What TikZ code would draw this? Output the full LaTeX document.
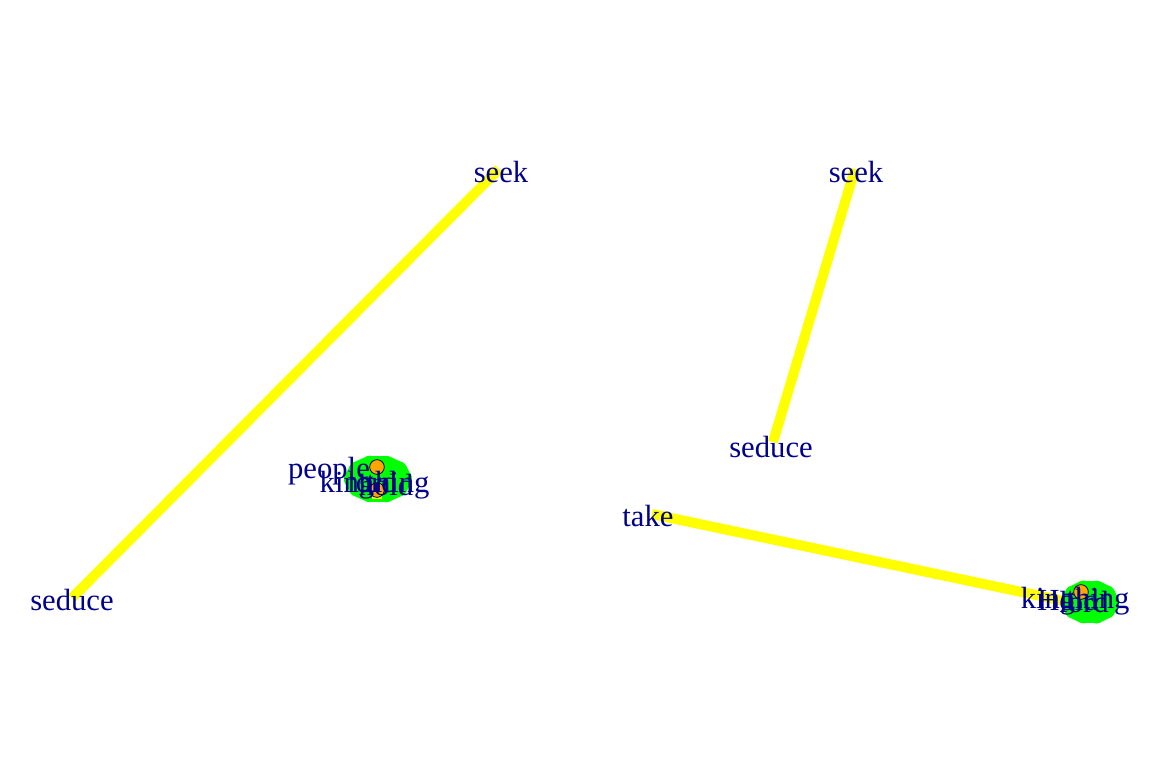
\documentclass[tikz,border=0pt]{standalone}
\usepackage{fontspec}
\setmainfont{Liberation Serif}
\usetikzlibrary{backgrounds}
\definecolor{my_navy}{HTML}{00008B}
\definecolor{my_yellow}{HTML}{FFFF00}
\definecolor{my_green}{HTML}{00FF00}
\definecolor{my_orange}{HTML}{FFA500}

\begin{document}
\begin{tikzpicture}[
    x=0.75pt, y=-0.75pt,
    kante/.style={my_yellow, line width=7.5pt},
    buendel/.style={my_green, line width=12pt, line cap=round, line join=round},
    schleife/.style={draw=black, fill=my_orange, line width=0.6pt},
    wort/.style={text=my_navy, font=\fontsize{23}{25}\selectfont, inner sep=0pt, yshift=-1.5pt}
]
\useasboundingbox (0, 0) rectangle (1152, 768);

% ===== Linkes Netz =====
\begin{scope}
    \coordinate (seekL) at (499, 169);
    \coordinate (seduceL) at (72, 598);
    \coordinate (eL) at (377, 490);
    \coordinate (fL) at (377, 499);
    \foreach \i in {0, ..., 9}
        \coordinate (kL\i) at ([shift={(378, 479)}] \i*36 : 26 and 16);

    \draw[kante] (seekL) -- (seduceL);

    % dichter Knoten
    \foreach \i [evaluate=\i as \j using {int(mod(\i+1, 10))}] in {0, ..., 9}
        \draw[buendel] (kL\i) -- (kL\j);
    \draw[buendel] (kL0) -- (kL5) (kL2) -- (kL7);
    \draw[kante] (eL) -- (fL);
    \draw[schleife] (eL) circle (5.5pt);
    \draw[schleife] (377, 467) circle (5.5pt);

    \node[wort] (seekLw) at (501, 170) {seek};
    \node[wort] (seduceLw) at (seduceL) {seduce};
    \node[wort] (peopleL) at (329, 469) {people};
    \node[wort] (kingL) at (347, 483) {king};
    \node[wort] (lordL) at (372, 480) {lord};
    \node[wort] (holdL) at (386, 483) {hold};
    \node[wort] (thingL) at (398, 483) {thing};
\end{scope}

% ===== Rechtes Netz =====
\begin{scope}
    \coordinate (seekR) at (855, 169);
    \coordinate (seduceR) at (773, 442);
    \coordinate (takeR) at (652, 514);
    \foreach \i in {0, ..., 9}
        \coordinate (kR\i) at ([shift={(1090, 602)}] \i*36 : 21 and 14);

    \draw[kante] (seekR) -- (seduceR);
    \draw[kante] (takeR) -- (kR5);

    % dichter Knoten
    \foreach \i [evaluate=\i as \j using {int(mod(\i+1, 10))}] in {0, ..., 9}
        \draw[buendel] (kR\i) -- (kR\j);
    \draw[buendel] (kR0) -- (kR5) (kR2) -- (kR7);
    \draw[schleife] (1081, 592) circle (5.5pt);

    \node[wort] (seekRw) at (856, 170) {seek};
    \node[wort] (seduceRw) at (771, 445) {seduce};
    \node[wort] (takeRw) at (648, 514) {take};
    \node[wort] (kingR) at (1048, 599) {king};
    \node[wort] (holdR) at (1068, 598) {Hold};
    \node[wort] (lordR) at (1084, 600) {lord};
    \node[wort] (thingR) at (1098, 599) {thing};
\end{scope}

\end{tikzpicture}
\end{document}
